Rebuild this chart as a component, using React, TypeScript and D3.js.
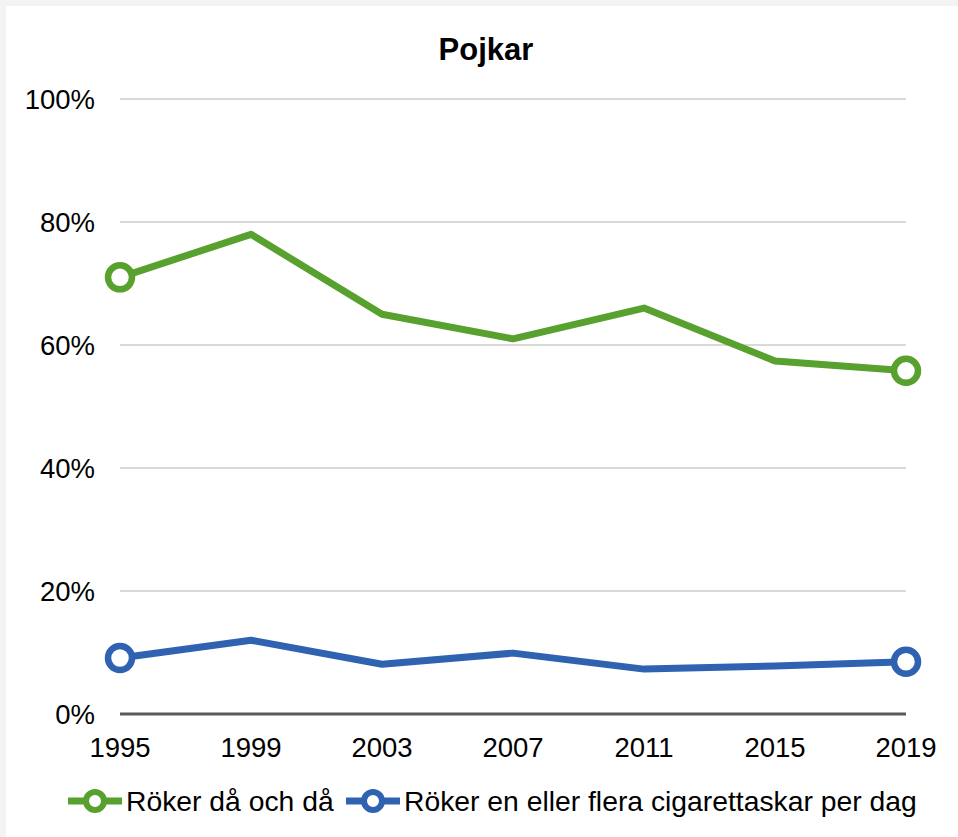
import React from "react";
import * as d3 from "d3";

const years = ["1995", "1999", "2003", "2007", "2011", "2015", "2019"];
const seriesNames = ["Röker då och då", "Röker en eller flera cigarettaskar per dag"];
const greenValues = [71, 78, 65, 61, 66, 57.4, 55.8];
const blueValues = [9.1, 12, 8.1, 9.9, 7.3, 7.8, 8.5];
const yTicks = [0, 20, 40, 60, 80, 100];
const colors = ["#58a12f", "#2f62b0"];

const W = 958;
const H = 837;

export default function App() {
  const x = d3.scalePoint<string>().domain(years).range([120, 906]);
  const y = d3.scaleLinear().domain([0, 100]).range([714, 99]);
  const line = d3
    .line<number>()
    .x((_, i) => x(years[i]) as number)
    .y((d) => y(d));
  const series = [greenValues, blueValues];
  const font = "'Liberation Sans', Arial, sans-serif";
  const legendItems = [
    { x0: 68, tx: 126 },
    { x0: 346, tx: 404 },
  ];
  return (
    <svg
      width={W}
      height={H}
      style={{ position: "absolute", left: 0, top: 0, background: "#f3f3f3" }}
      fontFamily={font}
    >
      <rect x={6} y={6} width={W - 6} height={H - 6} fill="#ffffff" />
      <text x={486} y={60} textAnchor="middle" fontSize={31} fontWeight="bold" fill="#000">
        Pojkar
      </text>
      {yTicks.map((t) => (
        <g key={t}>
          {t !== 0 && (
            <line x1={120} x2={906} y1={y(t)} y2={y(t)} stroke="#d9d9d9" strokeWidth={2} />
          )}
          <text x={95} y={y(t) + 10} textAnchor="end" fontSize={27.5} fill="#000">
            {t}%
          </text>
        </g>
      ))}
      <line x1={120} x2={906} y1={y(0)} y2={y(0)} stroke="#595959" strokeWidth={3} />
      {years.map((yr) => (
        <text key={yr} x={x(yr)} y={757} textAnchor="middle" fontSize={27.5} fill="#000">
          {yr}
        </text>
      ))}
      {series.map((vals, si) => (
        <g key={si}>
          <path
            d={line(vals) || ""}
            fill="none"
            stroke={colors[si]}
            strokeWidth={7}
            strokeLinejoin="round"
          />
          {[0, vals.length - 1].map((i) => (
            <circle
              key={i}
              cx={x(years[i])}
              cy={y(vals[i])}
              r={12}
              fill="#fff"
              stroke={colors[si]}
              strokeWidth={6.5}
            />
          ))}
        </g>
      ))}
      {legendItems.map((li, i) => (
        <g key={i}>
          <line x1={li.x0} x2={li.x0 + 54} y1={801} y2={801} stroke={colors[i]} strokeWidth={7} />
          <circle cx={li.x0 + 27} cy={801} r={9} fill="#fff" stroke={colors[i]} strokeWidth={6} />
          <text x={li.tx} y={811} fontSize={28.3} fill="#000">
            {seriesNames[i]}
          </text>
        </g>
      ))}
    </svg>
  );
}
